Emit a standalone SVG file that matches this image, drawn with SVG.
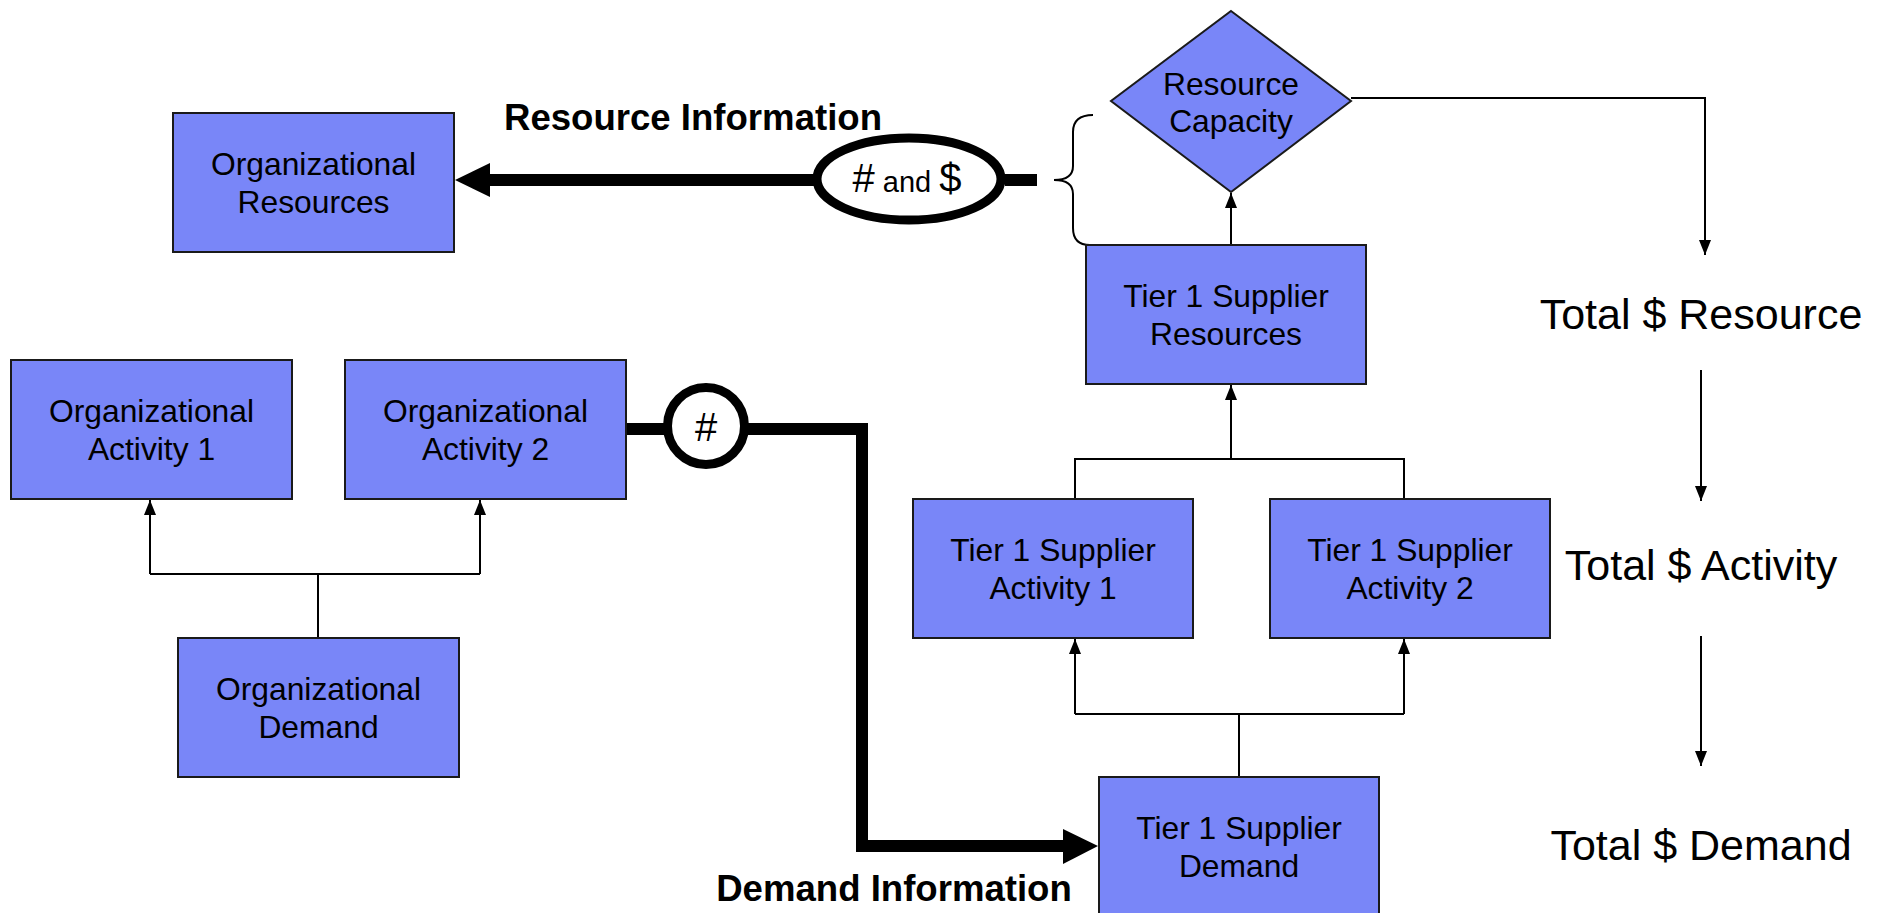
<svg xmlns="http://www.w3.org/2000/svg" width="1885" height="913" viewBox="0 0 1885 913">
<style>
.box{fill:#7986F8;stroke:#1a1a1a;stroke-width:2}
.t{font-family:"Liberation Sans",Arial,sans-serif;font-size:31.8px;fill:#000;text-anchor:middle}
.big{font-family:"Liberation Sans",Arial,sans-serif;font-size:43px;fill:#000;text-anchor:middle}
.bold{font-family:"Liberation Sans",Arial,sans-serif;font-size:36.6px;font-weight:bold;fill:#000;text-anchor:middle}
.thin{fill:none;stroke:#000;stroke-width:2}
.thick{fill:none;stroke:#000;stroke-width:12}
</style>
<defs>
<marker id="ah" markerUnits="userSpaceOnUse" markerWidth="16" markerHeight="14" viewBox="0 0 16 14" refX="15" refY="7" orient="auto">
<path d="M0,1 L15,7 L0,13 Z" fill="#000"/>
</marker>
</defs>
<rect width="1885" height="913" fill="#fff"/>

<g id="connectors">
<polyline class="thin" points="318,637 318,574"/>
<polyline class="thin" points="150,574 480,574"/>
<line class="thin" x1="150" y1="574" x2="150" y2="500" marker-end="url(#ah)"/>
<line class="thin" x1="480" y1="574" x2="480" y2="500" marker-end="url(#ah)"/>
<polyline class="thin" points="1239,777 1239,714"/>
<polyline class="thin" points="1075,714 1404,714"/>
<line class="thin" x1="1075" y1="714" x2="1075" y2="639" marker-end="url(#ah)"/>
<line class="thin" x1="1404" y1="714" x2="1404" y2="639" marker-end="url(#ah)"/>
<polyline class="thin" points="1075,499 1075,459 1404,459 1404,499"/>
<line class="thin" x1="1231" y1="459" x2="1231" y2="385" marker-end="url(#ah)"/>
<line class="thin" x1="1231" y1="245" x2="1231" y2="193" marker-end="url(#ah)"/>
<polyline class="thin" points="1351,98 1705,98 1705,255" marker-end="url(#ah)"/>
<line class="thin" x1="1701" y1="370" x2="1701" y2="501" marker-end="url(#ah)"/>
<line class="thin" x1="1701" y1="636" x2="1701" y2="766" marker-end="url(#ah)"/>
<path class="thin" d="M1093,115 Q1073,115 1073,132 L1073,166 Q1073,180 1054,180 Q1073,180 1073,194 L1073,228 Q1073,245 1090,245"/>
<line class="thick" x1="1005" y1="180" x2="1037" y2="180"/>
<line class="thick" x1="488" y1="180" x2="815" y2="180"/>
<polygon points="455,180 490,163 490,197" fill="#000"/>
<line class="thick" x1="626" y1="429" x2="668" y2="429"/>
<polyline class="thick" points="745,429 862,429 862,846 1064,846"/>
<polygon points="1098,846 1063,829 1063,864" fill="#000"/>
</g>

<g id="resource-info-label"><text class="bold" x="693" y="130">Resource Information</text></g>
<g id="demand-info-label"><text class="bold" x="894" y="901">Demand Information</text></g>

<g id="ellipse-num-dollar">
<ellipse cx="909" cy="179" rx="92" ry="41" fill="#fff" stroke="#000" stroke-width="9"/>
<text x="907" y="192" style="font-family:'Liberation Sans',Arial,sans-serif;fill:#000;text-anchor:middle"><tspan font-size="40">#</tspan><tspan font-size="29"> and </tspan><tspan font-size="40">$</tspan></text>
</g>

<g id="circle-num">
<circle cx="706" cy="426" r="38.5" fill="#fff" stroke="#000" stroke-width="9"/>
<text x="706" y="441" style="font-family:'Liberation Sans',Arial,sans-serif;font-size:40px;fill:#000;text-anchor:middle">#</text>
</g>

<g id="org-resources">
<rect class="box" x="173" y="113" width="281" height="139"/>
<text class="t" x="313.5" y="174.5">Organizational</text>
<text class="t" x="313.5" y="212.5">Resources</text>
</g>
<g id="org-activity-1">
<rect class="box" x="11" y="360" width="281" height="139"/>
<text class="t" x="151.5" y="421.5">Organizational</text>
<text class="t" x="151.5" y="459.5">Activity 1</text>
</g>
<g id="org-activity-2">
<rect class="box" x="345" y="360" width="281" height="139"/>
<text class="t" x="485.5" y="421.5">Organizational</text>
<text class="t" x="485.5" y="459.5">Activity 2</text>
</g>
<g id="org-demand">
<rect class="box" x="178" y="638" width="281" height="139"/>
<text class="t" x="318.5" y="699.5">Organizational</text>
<text class="t" x="318.5" y="737.5">Demand</text>
</g>
<g id="resource-capacity">
<polygon class="box" points="1231,11 1351,101 1231,192 1111,101"/>
<text class="t" x="1231" y="95">Resource</text>
<text class="t" x="1231" y="132">Capacity</text>
</g>
<g id="tier1-resources">
<rect class="box" x="1086" y="245" width="280" height="139"/>
<text class="t" x="1226" y="306.5">Tier 1 Supplier</text>
<text class="t" x="1226" y="344.5">Resources</text>
</g>
<g id="tier1-activity-1">
<rect class="box" x="913" y="499" width="280" height="139"/>
<text class="t" x="1053" y="560.5">Tier 1 Supplier</text>
<text class="t" x="1053" y="598.5">Activity 1</text>
</g>
<g id="tier1-activity-2">
<rect class="box" x="1270" y="499" width="280" height="139"/>
<text class="t" x="1410" y="560.5">Tier 1 Supplier</text>
<text class="t" x="1410" y="598.5">Activity 2</text>
</g>
<g id="tier1-demand">
<rect class="box" x="1099" y="777" width="280" height="139"/>
<text class="t" x="1239" y="838.5">Tier 1 Supplier</text>
<text class="t" x="1239" y="876.5">Demand</text>
</g>

<g id="total-resource"><text class="big" x="1701" y="329">Total $ Resource</text></g>
<g id="total-activity"><text class="big" x="1701" y="580">Total $ Activity</text></g>
<g id="total-demand"><text class="big" x="1701" y="860">Total $ Demand</text></g>
</svg>
